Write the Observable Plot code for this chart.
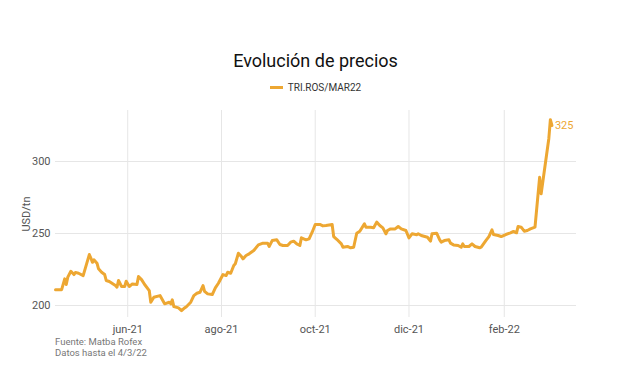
<!DOCTYPE html>
<html>
<head>
<meta charset="utf-8">
<script src="https://cdn.jsdelivr.net/npm/d3@7"></script>
<script src="https://cdn.jsdelivr.net/npm/@observablehq/plot@0.6"></script>
<style>
  body { margin: 0; background: #fff; font-family: Roboto, sans-serif; }
  #wrap { position: relative; width: 618px; height: 370px; overflow: hidden; background: #fff; }
  #title { position: absolute; left: 55px; width: 521px; top: 50px; text-align: center; font-size: 18px; font-weight: 400; color: #111; line-height: 22px; }
  #legend { position: absolute; left: 55px; width: 521px; top: 81px; text-align: center; font-size: 10px; color: #333; line-height: 14px; }
  #legend .sw { display: inline-block; width: 13px; height: 3px; vertical-align: middle; margin-right: 5px; position: relative; top: -1px; }
  #chart { position: absolute; left: 0; top: 100px; }
  #caption { position: absolute; left: 55px; top: 337px; font-size: 9.5px; color: #777; line-height: 10.5px; }
</style>
</head>
<body>
<div id="wrap">
  <div id="title"></div>
  <div id="legend"></div>
  <div id="chart"></div>
  <div id="caption"></div>
</div>
<script>
const titleText = "Evolución de precios";
const seriesName = "TRI.ROS/MAR22";
const captionLines = ["Fuente: Matba Rofex", "Datos hasta el 4/3/22"];
const lineColor = "#EDA732";

const dates = [
  "2021-04-15","2021-04-19","2021-04-21","2021-04-22","2021-04-23","2021-04-25","2021-04-27","2021-04-28","2021-04-30",
  "2021-05-03","2021-05-07","2021-05-08","2021-05-09","2021-05-10","2021-05-12","2021-05-13","2021-05-15","2021-05-17",
  "2021-05-18","2021-05-20","2021-05-24","2021-05-25","2021-05-26","2021-05-28","2021-05-30","2021-05-31",
  "2021-06-02","2021-06-04","2021-06-07","2021-06-08","2021-06-10","2021-06-12","2021-06-15","2021-06-16","2021-06-18",
  "2021-06-22","2021-06-25","2021-06-28","2021-06-29","2021-06-30",
  "2021-07-01","2021-07-04","2021-07-06","2021-07-08","2021-07-09","2021-07-12","2021-07-14","2021-07-16","2021-07-18",
  "2021-07-20","2021-07-21","2021-07-23","2021-07-26","2021-07-28","2021-07-30",
  "2021-08-02","2021-08-04","2021-08-05","2021-08-07","2021-08-09","2021-08-10","2021-08-12","2021-08-14","2021-08-15",
  "2021-08-17","2021-08-19","2021-08-22","2021-08-25","2021-08-28","2021-08-31",
  "2021-09-01","2021-09-03","2021-09-06","2021-09-08","2021-09-10","2021-09-13","2021-09-15","2021-09-17","2021-09-19",
  "2021-09-21","2021-09-22","2021-09-25","2021-09-27","2021-09-29",
  "2021-10-01","2021-10-04","2021-10-06","2021-10-08","2021-10-12","2021-10-13","2021-10-15","2021-10-18","2021-10-19",
  "2021-10-22","2021-10-24","2021-10-26","2021-10-28","2021-10-30",
  "2021-11-02","2021-11-03","2021-11-06","2021-11-08","2021-11-10","2021-11-12","2021-11-14","2021-11-16","2021-11-17",
  "2021-11-19","2021-11-22","2021-11-24","2021-11-26","2021-11-29",
  "2021-12-01","2021-12-03","2021-12-06","2021-12-07","2021-12-09","2021-12-13","2021-12-15","2021-12-16","2021-12-19",
  "2021-12-21","2021-12-22","2021-12-24","2021-12-27","2021-12-28","2021-12-30",
  "2022-01-02","2022-01-04","2022-01-05","2022-01-06","2022-01-09","2022-01-11","2022-01-13","2022-01-16","2022-01-17",
  "2022-01-20","2022-01-22","2022-01-24","2022-01-25","2022-01-28","2022-01-30",
  "2022-02-02","2022-02-05","2022-02-07","2022-02-09","2022-02-10","2022-02-12","2022-02-14","2022-02-16","2022-02-18",
  "2022-02-21","2022-02-24","2022-02-25","2022-03-02","2022-03-03","2022-03-04"
];
const prices = [
  211,211,218.5,214.6,219.7,223.8,221.5,223,222.4,
  220.8,235.4,233,230,231.7,229.4,225.5,223.1,221.5,
  217.4,216.7,213.9,212.7,217.4,213.2,213.2,216.9,
  213.2,215,214.6,220.1,218,214.6,210.4,202.3,205.8,
  206.9,201.2,202.3,201.2,204,
  199.3,198.4,196.5,198.4,199,202.3,206.9,208.5,209.2,
  213.9,209.9,208.1,207.6,212.3,215.5,
  221.5,220.8,223.1,222.4,227.8,229,236.3,234,232.4,
  234.7,235.9,238.2,242.1,243.3,243.3,
  241,245.1,245.6,242.4,241.7,241.7,244,244.7,242.8,
  241.7,247,245.6,246.3,250.9,
  256.3,256.3,255.3,255.6,256.3,247.9,246,242.8,240.5,
  241,240.1,240.5,250.2,251.6,
  256.7,254.4,254.4,254,257.9,255.6,253.9,249.8,252.1,
  253.2,253.2,254.9,253.2,252.1,
  247,249.8,249.1,249.8,248.6,247.4,244.7,249.8,250.2,
  245.6,244,245.1,245.6,243.3,242.1,
  241.7,240.5,242.8,241,241,242.8,241,240.1,240.5,
  245.1,247.9,252.5,249.3,248.6,247.9,
  249.3,250.5,251.4,250.5,254.9,254.4,251.6,252.1,253.2,
  254.4,289,277.6,316,329,325
];

const xTicks = ["2021-06-01","2021-08-01","2021-10-01","2021-12-01","2022-02-01"];
const xTickLabels = ["jun-21","ago-21","oct-21","dic-21","feb-22"];
const yTicks = [200, 250, 300];
const xDomain = ["2021-04-15", "2022-03-20"];
const yDomain = [191.7, 335.4];
const yLabel = "USD/tn";

const data = dates.map((d, i) => ({date: new Date(d), price: prices[i]}));
const xTickDates = xTicks.map(d => new Date(d));

document.getElementById("title").textContent = titleText;
document.getElementById("legend").innerHTML =
  `<span class="sw" style="background:${lineColor}"></span><span></span>`;
document.querySelector("#legend span:last-child").textContent = seriesName;
document.getElementById("caption").innerHTML = captionLines.map(() => "<div></div>").join("");
document.querySelectorAll("#caption div").forEach((el, i) => el.textContent = captionLines[i]);

const chart = Plot.plot({
  width: 618,
  height: 237,
  marginTop: 10,
  marginBottom: 20,
  marginLeft: 55,
  marginRight: 42,
  style: {fontFamily: "Roboto, sans-serif", fontSize: "11px", color: "#555", background: "white"},
  x: {
    type: "utc",
    domain: xDomain.map(d => new Date(d)),
    ticks: xTickDates,
    tickFormat: d => xTickLabels[xTickDates.findIndex(t => +t === +d)],
    tickSize: 0,
    tickPadding: 8,
    label: null
  },
  y: {
    domain: yDomain,
    ticks: yTicks,
    tickSize: 0,
    tickPadding: 5,
    label: yLabel,
    labelAnchor: "center",
    labelArrow: "none",
    labelOffset: 33
  },
  marks: [
    Plot.gridX(xTickDates, {stroke: "#e6e6e6", strokeOpacity: 1}),
    Plot.gridY(yTicks, {stroke: "#e6e6e6", strokeOpacity: 1}),
    Plot.line(data, {x: "date", y: "price", stroke: lineColor, strokeWidth: 3, strokeLinejoin: "round"}),
    Plot.text(data, Plot.selectLast({x: "date", y: "price", text: d => String(d.price), dx: 3, textAnchor: "start", fill: lineColor, fontSize: 11}))
  ]
});
document.getElementById("chart").appendChild(chart);
</script>
</body>
</html>
